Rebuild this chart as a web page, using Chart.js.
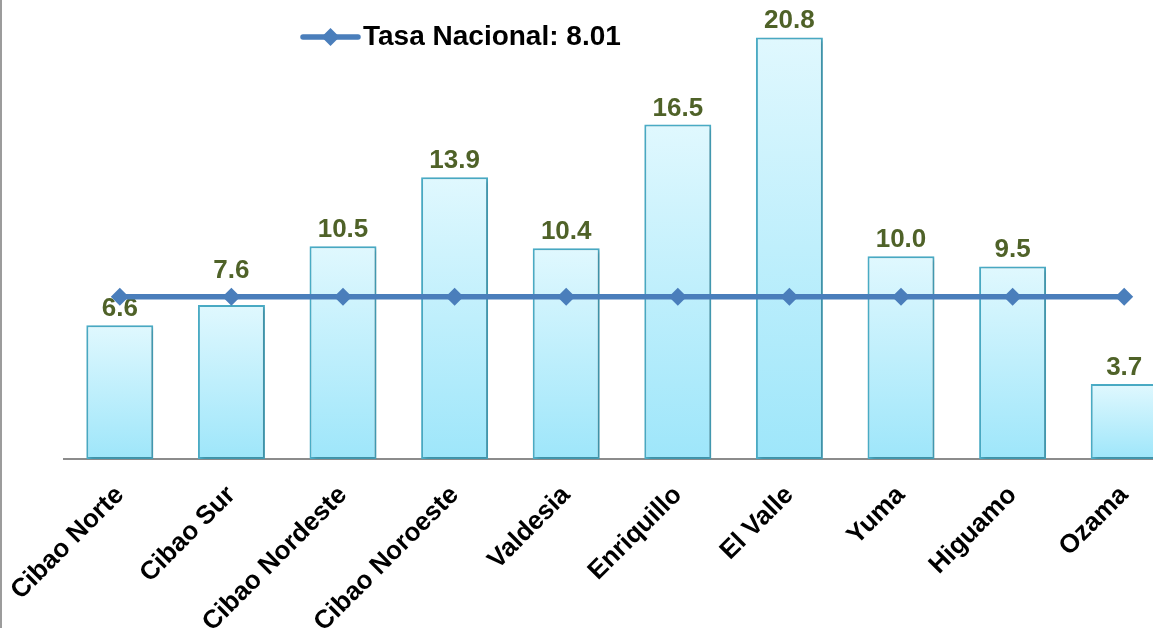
<!DOCTYPE html>
<html>
<head>
<meta charset="utf-8">
<script src="https://cdn.jsdelivr.net/npm/chart.js@4/dist/chart.umd.min.js"></script>
<style>
  html, body { margin: 0; padding: 0; background: #fff; overflow: hidden; }
  #marco { position: relative; width: 1153px; height: 628px; overflow: hidden; border-left: 2px solid #9c9c9c; box-sizing: border-box; }
  #grafico { position: absolute; left: 0; top: 0; }
</style>
</head>
<body>
<div id="marco"><canvas id="grafico" width="1187" height="628"></canvas></div>
<script>
const regiones = ["Cibao Norte", "Cibao Sur", "Cibao Nordeste", "Cibao Noroeste", "Valdesia",
  "Enriquillo", "El Valle", "Yuma", "Higuamo", "Ozama"];
const tasas = [6.6, 7.6, 10.5, 13.9, 10.4, 16.5, 20.8, 10.0, 9.5, 3.7];
const tasaNacional = 8.01;
const etiquetaNacional = "Tasa Nacional: " + tasaNacional.toFixed(2);

const fuente = '"Liberation Sans", Arial, sans-serif';
const azulLinea = "#4a7ebb";

// degradado por barra, claro arriba y mas azul abajo
function rellenoBarra(c) {
  const chart = c.chart;
  if (!chart.chartArea || c.raw == null) return "#c6f0fc";
  const y = chart.scales.y;
  const g = chart.ctx.createLinearGradient(0, y.getPixelForValue(c.raw), 0, y.getPixelForValue(0));
  g.addColorStop(0, "#e0f8fe");
  g.addColorStop(1, "#9ee6fa");
  return g;
}

// sombra suave de las barras + valores encima
const pluginBarras = {
  id: "pluginBarras",
  beforeDatasetDraw(chart, args) {
    if (args.index !== 0) return;
    const ctx = chart.ctx;
    ctx.save();
    ctx.shadowColor = "rgba(0,0,0,0.2)";
    ctx.shadowBlur = 4;
    ctx.shadowOffsetX = 2;
    ctx.shadowOffsetY = 2;
  },
  afterDatasetDraw(chart, args) {
    if (args.index !== 0) return;
    const ctx = chart.ctx;
    ctx.restore();
    ctx.save();
    ctx.font = "bold 26px " + fuente;
    ctx.fillStyle = "#4f6228";
    ctx.textAlign = "center";
    ctx.textBaseline = "alphabetic";
    const yLinea = chart.scales.y.getPixelForValue(tasaNacional);
    args.meta.data.forEach((barra, i) => {
      let base = barra.y - 9;
      // si el valor choca con la linea nacional, se sube por encima
      if (yLinea > base - 15 && yLinea < base + 4) base = yLinea - 19;
      ctx.fillText(tasas[i].toFixed(1), barra.x, base);
    });
    ctx.restore();
  },
  afterDraw(chart) {
    // leyenda
    const ctx = chart.ctx;
    const x0 = 301, x1 = 356, yl = 37;
    ctx.save();
    ctx.strokeStyle = azulLinea;
    ctx.lineWidth = 5.5;
    ctx.lineCap = "round";
    ctx.beginPath();
    ctx.moveTo(x0, yl);
    ctx.lineTo(x1, yl);
    ctx.stroke();
    const xc = (x0 + x1) / 2, r = 9;
    ctx.fillStyle = azulLinea;
    ctx.beginPath();
    ctx.moveTo(xc - r, yl);
    ctx.lineTo(xc, yl - r);
    ctx.lineTo(xc + r, yl);
    ctx.lineTo(xc, yl + r);
    ctx.closePath();
    ctx.fill();
    ctx.font = "bold 28px " + fuente;
    ctx.fillStyle = "#000";
    ctx.textBaseline = "middle";
    ctx.fillText(chart.data.datasets[1].label, 361, yl);
    ctx.restore();
  }
};

const ctx = document.getElementById("grafico").getContext("2d");

const grafico = new Chart(ctx, {
  data: {
    labels: regiones,
    datasets: [
      {
        type: "bar",
        label: "Tasa regional",
        data: tasas,
        backgroundColor: rellenoBarra,
        borderColor: "#4aacc6",
        borderWidth: 2,
        borderSkipped: false,
        barPercentage: 0.6,
        categoryPercentage: 1,
        order: 1
      },
      {
        type: "line",
        label: etiquetaNacional,
        data: regiones.map(() => tasaNacional),
        borderColor: azulLinea,
        backgroundColor: azulLinea,
        borderWidth: 5.5,
        pointStyle: "rectRot",
        pointRadius: 9,
        pointBorderWidth: 0,
        pointBackgroundColor: azulLinea,
        order: 0
      }
    ]
  },
  options: {
    responsive: false,
    animation: false,
    layout: { padding: { left: 62, right: 0, top: 0, bottom: 0 } },
    scales: {
      x: {
        grid: { display: false },
        border: { display: true, color: "#8c8c8c", width: 2 },
        ticks: {
          autoSkip: false,
          minRotation: 45,
          maxRotation: 45,
          color: "#000",
          padding: 13,
          font: { family: fuente, size: 26, weight: "bold" }
        },
        afterFit: (escala) => {
          escala.height = 169;
          escala.paddingLeft = 0;
          escala.paddingRight = 0;
        }
      },
      y: {
        display: false,
        min: 0,
        max: 22.2
      }
    },
    plugins: {
      legend: { display: false },
      tooltip: { enabled: false }
    }
  },
  plugins: [pluginBarras]
});
</script>
</body>
</html>
